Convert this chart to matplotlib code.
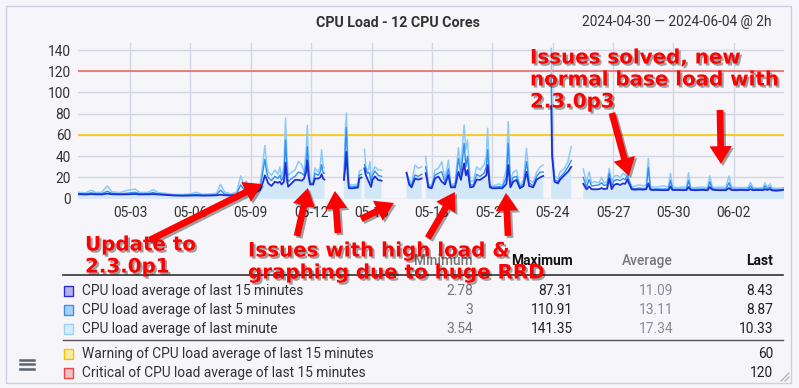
import numpy as np
import matplotlib
matplotlib.use("Agg")
import matplotlib.pyplot as plt
import matplotlib.patheffects as pe
from matplotlib.patches import Rectangle
from matplotlib.lines import Line2D

W, H = 799, 388

# time in days after 2024-04-30 00:00
seg1_t = [0.42, 0.8, 1.08, 1.3, 1.6, 1.87, 2.1, 2.5, 2.9, 3.25, 3.5, 3.9, 4.16, 4.4, 4.8, 5.2,
          5.6, 6.0, 6.3, 6.6, 7.0, 7.3, 7.5, 7.7, 8.0, 8.3, 8.5, 8.65, 8.78, 9.0, 9.2, 9.46,
          9.6, 9.7, 9.8, 9.87, 10.03, 10.2, 10.35, 10.45, 10.53, 10.65, 10.73, 10.8, 10.86,
          11.03, 11.2, 11.37, 11.53, 11.65, 11.75, 11.81, 11.88, 11.95, 12.1, 12.19, 12.35,
          12.45, 12.52, 12.6, 12.66]
seg1_15 = [4.2, 4.0, 4.3, 4.1, 4.0, 4.8, 4.2, 4.0, 4.1, 4.4, 4.0, 4.1, 4.3, 4.0, 3.6, 3.0,
           2.8, 3.0, 3.1, 2.9, 3.0, 3.2, 3.8, 3.3, 3.0, 3.5, 5.0, 5.5, 6.0, 5.0, 5.5, 8.0,
           15, 22, 18, 14.5, 12, 16, 15, 16, 13.4, 16, 34, 18, 11.3,
           14.5, 17.7, 17.7, 17, 19, 25, 36, 20, 13.4, 13.4, 19, 19,
           20, 23, 19, 18]
seg1_5 = [4.8, 4.5, 5.5, 4.8, 4.6, 7.0, 5.0, 4.6, 5.2, 6.0, 4.6, 4.8, 5.8, 4.6, 4.0, 3.4,
          3.2, 3.5, 4.0, 3.3, 3.4, 3.8, 8.0, 4.5, 3.5, 4.5, 13.0, 9.0, 11.0, 6.0, 6.5, 10.0,
          25, 37, 24, 20, 17, 21, 19, 22, 17, 22, 55, 28, 16,
          19, 21, 25, 24, 22, 32, 49, 28, 14.5, 14.5, 24, 22,
          25, 32, 24, 24]
seg1_1 = [6.0, 5.5, 8.0, 5.8, 6.0, 12.0, 6.5, 5.8, 8.0, 9.0, 5.8, 6.0, 8.5, 5.8, 5.0, 4.0,
          4.0, 4.5, 6.0, 4.2, 4.5, 5.0, 13.5, 6.5, 4.5, 6.0, 21.5, 14.0, 16.5, 7.0, 7.5, 12.0,
          33, 50, 32, 25, 22, 27, 23, 30, 20, 30, 76, 40, 22,
          25, 27, 35, 32, 25, 45, 69, 35, 15.5, 15.5, 29, 25,
          30, 46, 30, 29]

seg2_t = [13.63, 13.7, 13.75, 13.81, 13.87, 14.0, 14.15, 14.33, 14.39, 14.5]
seg2_15 = [17.7, 30, 44, 25, 10, 9.8, 10, 10.5, 19, 20]
seg2_5 = [18.5, 50, 67, 35, 12, 11, 11.5, 12, 22, 23]
seg2_1 = [19, 65, 80.5, 45, 14, 13, 13, 14, 26, 27]

seg3_t = [14.65, 14.72, 14.79, 14.86, 14.92, 14.98, 15.05, 15.17, 15.33, 15.5]
seg3_15 = [28.6, 22, 19, 16, 13.4, 11, 17.7, 21, 17.7, 17]
seg3_5 = [32, 28, 24, 25, 22, 15, 22, 26, 22, 21]
seg3_1 = [46.5, 30, 27, 28, 35, 20, 25, 30, 27, 27]

seg4_t = [16.74, 16.87, 16.99, 17.08, 17.16, 17.32, 17.49]
seg4_15 = [24.5, 13.4, 10.7, 15, 19, 18, 19]
seg4_5 = [24, 15, 12, 18, 22.3, 21, 23]
seg4_1 = [24, 18, 14, 24, 31.7, 28.6, 30]

seg5_t = [17.69, 17.76, 17.82, 17.99, 18.15, 18.32, 18.49, 18.65, 18.82, 18.94, 19.15, 19.32,
          19.44, 19.6, 19.69, 19.77, 19.9, 20.06, 20.22, 20.39, 20.59, 20.7, 20.77, 20.88,
          21.0, 21.2, 21.35, 21.5, 21.7, 21.79, 21.9, 22.04, 22.2, 22.37, 22.55, 22.7,
          22.83, 23.03, 23.2, 23.37, 23.53]
seg5_15 = [24, 18, 10.7, 9.8, 19, 20.9, 16, 13.4, 22.3, 10.7, 10.7, 25.4,
           17.7, 33.3, 22, 27, 10.7, 11.3, 18, 17.7, 20.3, 22, 31.7, 10.7,
           9.8, 9.8, 10, 9.8, 14, 31.7, 10.7, 16, 17.7, 9.8, 12, 25.4,
           12, 10.7, 18, 20, 21.4]
seg5_5 = [30, 22, 12, 11, 22, 24, 25.4, 15, 28, 12, 12, 38,
          23, 52, 30, 40, 13, 13, 23, 21, 24, 30, 46, 12,
          11, 11, 11.5, 11, 20, 52, 13, 20, 21, 11, 14, 35,
          15, 12, 21, 25, 25]
seg5_1 = [40, 26, 13, 13, 27, 28.6, 34.8, 18, 36.4, 13, 14.5, 48,
          30, 69.4, 46, 55.3, 16, 17, 30, 27, 31.7, 40, 66.3, 13,
          12, 13, 14, 12, 28, 72.5, 17, 25, 27, 12, 18, 47.4,
          18, 15, 25, 30, 31.7]

seg6_t = [23.93, 23.97, 24.09, 24.26, 24.36, 24.59, 24.76, 24.92]
seg6_15 = [87.31, 40, 16, 14.4, 17.7, 22.3, 25.4, 30]
seg6_5 = [110.91, 45, 18, 16, 20, 25, 30, 36]
seg6_1 = [141.35, 50, 21.4, 19, 25, 28.6, 35, 49]

seg7_t = [25.52, 25.68, 25.81, 25.93, 26.1, 26.3, 26.43, 26.55, 26.7, 26.81, 26.93, 27.05,
          27.2, 27.35, 27.5, 27.6, 27.71, 27.8, 27.93, 28.1, 28.3, 28.5, 28.65, 28.75,
          28.85, 28.95, 29.2, 29.5, 29.75, 29.85, 29.95, 30.2, 30.5, 30.65, 30.75, 30.85,
          31.1, 31.4, 31.7, 31.8, 31.93, 32.05, 32.3, 32.6, 32.76, 32.88, 33.1, 33.4,
          33.7, 33.83, 33.95, 34.2, 34.45, 34.55, 34.65, 34.79, 34.9, 35.1, 35.3, 35.49]
seg7_15 = [14, 8.8, 11.5, 9, 8.8, 9, 10, 9, 9.5, 19, 9, 13,
           14, 13, 14.4, 14, 18.3, 14, 8.8, 8.5, 8.8, 8.5, 9, 14.4,
           8.5, 8.2, 8.2, 8.0, 8.2, 11.5, 8.2, 8.2, 8.0, 8.2, 11, 8.2,
           8.0, 8.2, 8.0, 11, 8.5, 8.2, 8.0, 8.0, 10, 8.2, 8.0, 8.2,
           8.0, 9, 8.0, 8.2, 8.0, 9, 8.2, 9, 7.8, 7.5, 7.8, 8.43]
seg7_5 = [20, 11, 18, 12, 12.5, 13, 15, 12.5, 13, 23.8, 12, 17,
          18, 17, 19, 18, 22, 16, 10, 9.5, 10, 9.5, 10, 29,
          10, 9, 9.2, 9, 9.2, 17, 9, 9, 9, 9.2, 17, 9,
          9, 9.2, 9, 16, 9.5, 9, 9, 9, 15, 9, 9, 9,
          9, 12, 9, 9, 9, 12, 9, 11, 8.5, 8.3, 8.6, 8.87]
seg7_1 = [28, 15, 25.4, 15, 16, 15, 20, 15, 16, 28.6, 16, 21,
          22, 20, 24, 22, 25.4, 18, 11.5, 12, 13, 12, 13, 38,
          12, 11, 11, 12, 11, 23.9, 11, 10.5, 11, 11, 24.5, 10.5,
          10.5, 11, 10.5, 21.4, 11, 10.5, 11, 10.5, 21.4, 11, 10.5, 10.5,
          10.5, 15.2, 10.5, 10, 10.5, 15, 10.5, 14, 10, 9.8, 10, 10.33]

warn_level = 60
crit_level = 120

tick_days = [3, 6, 9, 12, 15, 18, 21, 24, 27, 30, 33]
tick_labels = ["05-03", "05-06", "05-09", "05-12", "05-15", "05-18", "05-21",
               "05-24", "05-27", "05-30", "06-02"]
y_ticks = [0, 20, 40, 60, 80, 100, 120, 140]

leg_names = ["CPU load average of last 15 minutes", "CPU load average of last 5 minutes",
             "CPU load average of last minute"]
leg_min = ["2.78", "3", "3.54"]
leg_max = ["87.31", "110.91", "141.35"]
leg_avg = ["11.09", "13.11", "17.34"]
leg_last = ["8.43", "8.87", "10.33"]
lvl_names = ["Warning of CPU load average of last 15 minutes",
             "Critical of CPU load average of last 15 minutes"]
lvl_last = ["60", "120"]


def join(*segs):
    out = []
    for i, s in enumerate(segs):
        if i:
            out.append(np.nan)
        out.extend(s)
    return np.array(out, dtype=float)


t = join(seg1_t, seg2_t, seg3_t, seg4_t, seg5_t, seg6_t, seg7_t)
l15 = join(seg1_15, seg2_15, seg3_15, seg4_15, seg5_15, seg6_15, seg7_15)
l5 = join(seg1_5, seg2_5, seg3_5, seg4_5, seg5_5, seg6_5, seg7_5)
l1 = join(seg1_1, seg2_1, seg3_1, seg4_1, seg5_1, seg6_1, seg7_1)
# gap markers need a time too
for i in np.where(np.isnan(t))[0]:
    t[i] = (t[i - 1] + t[i + 1]) / 2


def fx(x):
    return x / W


def fy(y):
    return 1 - y / H


BG = "#f5f5fa"
FS = 9.9
fig = plt.figure(figsize=(W / 100, H / 100), dpi=100)
fig.patch.set_facecolor(BG)
fig.add_artist(Rectangle((fx(6), fy(383)), fx(785), 377 / H, transform=fig.transFigure,
                         fill=False, ec="#cfcfe0", lw=1))

ax = fig.add_axes([fx(78), fy(198.7), fx(706), 155.7 / H])
ax.set_facecolor(BG)
for s in ax.spines.values():
    s.set_visible(False)

ax.fill_between(t, 0, l15, color="#d2e7f8", lw=0, zorder=1)
ax.plot(t, l1, color="#8ccbf8", lw=1.1, zorder=3)
ax.plot(t, l5, color="#2f8ff2", lw=1.0, zorder=4)
ax.plot(t, l15, color="#1f2fd4", lw=1.3, zorder=5)
ax.axhline(warn_level, color="#ffc800", lw=1.2, zorder=2)
ax.axhline(crit_level, color="#f06060", lw=1.1, zorder=2)

ax.set_xlim(0.42, 35.49)
ax.set_ylim(0, 146.6)
ax.set_xticks(tick_days)
ax.set_xticklabels(tick_labels)
ax.set_yticks(y_ticks)
ax.grid(True, color="#d3d6e4", lw=1.0, zorder=0)
ax.set_axisbelow(True)
ax.tick_params(length=0, labelsize=FS, labelcolor="#333333", pad=5)
for lab in ax.get_xticklabels() + ax.get_yticklabels():
    lab.set_family("Roboto")

fig.text(fx(398), fy(23), "CPU Load - 12 CPU Cores", ha="center", va="center",
         fontsize=10.3, fontweight="bold", family="Roboto", color="#333333")
fig.text(fx(772), fy(22), "2024-04-30 \u2014 2024-06-04 @ 2h", ha="right", va="center",
         fontsize=FS, family="Roboto", color="#333333")

# legend table
fig.text(fx(473), fy(261), "Minimum", ha="right", va="center", fontsize=FS,
         family="Roboto", fontweight="medium", color="#777777")
fig.text(fx(573), fy(261), "Maximum", ha="right", va="center", fontsize=FS,
         family="Roboto", fontweight="bold", color="#111111")
fig.text(fx(673), fy(261), "Average", ha="right", va="center", fontsize=FS,
         family="Roboto", fontweight="medium", color="#777777")
fig.text(fx(773), fy(261), "Last", ha="right", va="center", fontsize=FS,
         family="Roboto", fontweight="bold", color="#111111")
fig.add_artist(Line2D([fx(63), fx(783)], [fy(275), fy(275)], color="#333333", lw=1.2))
fig.add_artist(Line2D([fx(63), fx(783)], [fy(340), fy(340)], color="#555555", lw=1))

sq_face = ["#b4b4ec", "#a9d0f8", "#d6ecfa", "#fbe9a6", "#f8c0c4"]
sq_edge = ["#2c2cd0", "#3a90f0", "#9fd0f5", "#f5c400", "#ee4444"]
rows_y = [291, 310, 329, 354, 373]
for i, y in enumerate(rows_y):
    fig.add_artist(Rectangle((fx(64), fy(y + 4.5)), fx(9), 9.5 / H, transform=fig.transFigure,
                             fc=sq_face[i], ec=sq_edge[i], lw=1))
for i in range(3):
    y = rows_y[i]
    fig.text(fx(82), fy(y), leg_names[i], va="center", fontsize=FS, family="Roboto",
             color="#333333")
    fig.text(fx(473), fy(y), leg_min[i], ha="right", va="center", fontsize=FS,
             family="Roboto", color="#777777")
    fig.text(fx(573), fy(y), leg_max[i], ha="right", va="center", fontsize=FS,
             family="Roboto", color="#222222")
    fig.text(fx(673), fy(y), leg_avg[i], ha="right", va="center", fontsize=FS,
             family="Roboto", color="#8a8a99")
    fig.text(fx(773), fy(y), leg_last[i], ha="right", va="center", fontsize=FS,
             family="Roboto", color="#222222")
for i in range(2):
    y = rows_y[3 + i]
    fig.text(fx(82), fy(y), lvl_names[i], va="center", fontsize=FS, family="Roboto",
             color="#333333")
    fig.text(fx(773), fy(y), lvl_last[i], ha="right", va="center", fontsize=FS,
             family="Roboto", color="#222222")

# hamburger menu icon
for y in [359.5, 364, 368.5]:
    fig.add_artist(Line2D([fx(20), fx(34)], [fy(y), fy(y)], color="#5a6470", lw=1.8))
# resize grip
for d in [4, 8]:
    fig.add_artist(Line2D([fx(789 - d), fx(789)], [fy(381), fy(381 - d)], color="#aaaaaa", lw=0.8))

# red annotations
shadow = [pe.withSimplePatchShadow(offset=(1.5, -1.5), shadow_rgbFace="black", alpha=0.35)]
red_kw = dict(color="#ff0000", fontsize=14.3, fontweight="bold", family="DejaVu Sans",
              va="center", ha="left", linespacing=1.2, zorder=10, path_effects=shadow)
fig.text(fx(85), fy(256), "Update to\n2.3.0p1", **red_kw)
fig.text(fx(248), fy(262), "Issues with high load &\ngraphing due to huge RRD", **red_kw)
fig.text(fx(530), fy(80), "Issues solved, new\nnormal base load with\n2.3.0p3", **red_kw)

arrows = [((9.56, 13.8), (3.99, -38.9)),
          ((11.84, 10.1), (11.30, -35.1)),
          ((13.18, 7.3), (13.33, -32.3)),
          ((16.11, -4.0), (14.48, -19.0)),
          ((19.14, 6.3), (17.8, -37.0)),
          ((21.68, 5.4), (21.78, -35.0)),
          ((27.79, 21.4), (26.94, 80.7)),
          ((32.36, 32.7), (32.31, 83.5))]
for tip, tail in arrows:
    ax.annotate("", xy=tip, xytext=tail, annotation_clip=False, zorder=10,
                arrowprops=dict(arrowstyle="simple,head_length=0.8,head_width=1.0,tail_width=0.3",
                                mutation_scale=16, fc="#ff0000", ec="none",
                                shrinkA=0, shrinkB=0, path_effects=shadow))

fig.savefig("out.png", dpi=100, facecolor=BG)
